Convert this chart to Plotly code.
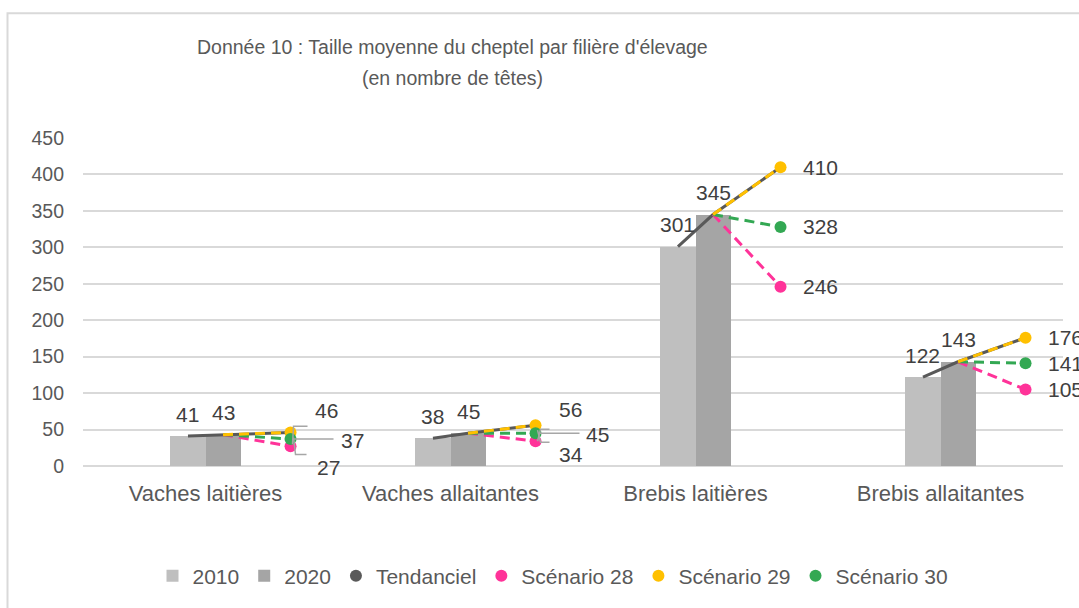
import plotly.graph_objects as go

categories = ["Vaches laitières", "Vaches allaitantes", "Brebis laitières", "Brebis allaitantes"]
v2010 = [41, 38, 301, 122]
v2020 = [43, 45, 345, 143]
tend2030 = [46, 56, 410, 176]
scen28 = [27, 34, 246, 105]
scen29 = [46, 56, 410, 176]
scen30 = [37, 45, 328, 141]
yticks = [0, 50, 100, 150, 200, 250, 300, 350, 400, 450]

OFF = 0                     # body margin removed by post_script
W, H = 1079, 608
PL, PR, PT, PB = 83, 1063, 138, 469          # plot area in page pixels
L, R, T, B = PL - OFF, PR - OFF, PT - OFF, PB - OFF
BW = 0.143          # bar width in category units
OFF30 = 0.347       # x offset of the 2030 points

FONT = "Liberation Sans, Arial, sans-serif"
TXT = "#595959"
LBL = "#404040"
C2010, C2020 = "#bfbfbf", "#a5a5a5"
CT, C28, C29, C30 = "#595959", "#ff3399", "#ffc000", "#33a853"

idx = list(range(len(categories)))
x10 = [i - BW / 2 for i in idx]
x20 = [i + BW / 2 for i in idx]
x30 = [i + OFF30 for i in idx]

fig = go.Figure()
fig.add_trace(go.Bar(x=x10, y=v2010, width=BW, marker=dict(color=C2010, line=dict(width=0)),
                     name="2010", showlegend=True))
fig.add_trace(go.Bar(x=x20, y=v2020, width=BW, marker=dict(color=C2020, line=dict(width=0)),
                     name="2020", showlegend=True))

# Tendanciel line 2010 -> 2020 -> 2030
tx, ty = [], []
for i in idx:
    tx += [x10[i], x20[i], x30[i], None]
    ty += [v2010[i], v2020[i], tend2030[i], None]
fig.add_trace(go.Scatter(x=tx, y=ty, mode="lines", line=dict(color=CT, width=3),
                         showlegend=False, hoverinfo="skip"))

def scen(vals, color):
    sx, sy = [], []
    for i in idx:
        sx += [x20[i], x30[i], None]
        sy += [v2020[i], vals[i], None]
    fig.add_trace(go.Scatter(x=sx, y=sy, mode="lines",
                             line=dict(color=color, width=3, dash="10px,6px"),
                             showlegend=False, hoverinfo="skip"))

def scen_markers(vals, color):
    fig.add_trace(go.Scatter(x=x30, y=vals, mode="markers",
                             marker=dict(color=color, size=12, line=dict(width=0)),
                             showlegend=False))

scen(scen28, C28)
scen(scen30, C30)
scen(scen29, C29)
scen_markers(scen28, C28)
scen_markers(scen29, C29)
scen_markers(scen30, C30)

# legend-only entries (circle symbols)
for name, color in [("Tendanciel", CT), ("Scénario 28", C28), ("Scénario 29", C29), ("Scénario 30", C30)]:
    fig.add_trace(go.Scatter(x=[None], y=[None], mode="markers", name=name,
                             marker=dict(color=color, size=12)))

LFS = 21
ann = []
shapes = []
# labels above 2010 / 2020
for i in idx:
    for xx, v in [(x10[i], v2010[i]), (x20[i], v2020[i])]:
        ann.append(dict(x=xx, y=v, text=str(v), showarrow=False, yshift=22,
                        font=dict(size=LFS, color=LBL, family=FONT)))

# scenario labels with leader lines for the two small categories
lead = {
    0: {"29": (22, 22, "M3,-5 L5,-22 L16,-22"),
        "30": (48, -1, "M3,0 L43,0"),
        "28": (24, -21, "M2,2 L3,20 L17,20")},
    1: {"29": (21, 16, "M2,-5 L5,-17 L14,-17"),
        "30": (48, -1, "M3,0 L44,0"),
        "28": (21, -13, "M2,0 L5,12 L14,12")},
}
for i in idx:
    for key, vals in [("28", scen28), ("29", scen29), ("30", scen30)]:
        if i in lead:
            xs, ys, path = lead[i][key]
            shapes.append(dict(type="path", xref="x", yref="y", xsizemode="pixel", ysizemode="pixel",
                               xanchor=x30[i], yanchor=vals[i], path=path,
                               line=dict(color="#a6a6a6", width=1.5)))
            ann.append(dict(x=x30[i], y=vals[i], text=str(vals[i]), showarrow=False,
                            xanchor="left", xshift=xs, yshift=ys,
                            font=dict(size=LFS, color=LBL, family=FONT)))
        else:
            ann.append(dict(x=x30[i], y=vals[i], text=str(vals[i]), showarrow=False,
                            xanchor="left", xshift=20,
                            font=dict(size=LFS, color=LBL, family=FONT)))

# page pixel -> paper helpers
pw, ph = R - L, B - T
def px(xp): return (xp - OFF - L) / pw
def py(yp): return (B - (yp - OFF)) / ph

ann.append(dict(xref="paper", yref="paper", x=px(452), y=py(46), xanchor="center", yanchor="middle",
                showarrow=False, text="Donnée 10 : Taille moyenne du cheptel par filière d'élevage",
                font=dict(size=19.5, color=TXT, family=FONT)))
ann.append(dict(xref="paper", yref="paper", x=px(452), y=py(77), xanchor="center", yanchor="middle",
                showarrow=False, text="(en nombre de têtes)", font=dict(size=19.5, color=TXT, family=FONT)))

# chart frame (left and top edges visible)
shapes.append(dict(type="rect", xref="paper", yref="paper", x0=px(7.5), x1=px(1120), y0=py(660), y1=py(12),
                   line=dict(color="#d9d9d9", width=2), fillcolor="rgba(0,0,0,0)", layer="below"))

fig.update_layout(
    width=W, height=H,
    margin=dict(l=L, r=W - R, t=T, b=H - B, pad=0),
    paper_bgcolor="white", plot_bgcolor="white",
    barmode="overlay", bargap=0,
    font=dict(family=FONT, color=TXT),
    annotations=ann, shapes=shapes,
    legend=dict(orientation="h", x=px(553), xanchor="center", y=py(580), yanchor="middle",
                font=dict(size=21, color=TXT, family=FONT), itemwidth=30, tracegroupgap=0,
                bgcolor="rgba(0,0,0,0)"),
    xaxis=dict(range=[-0.5, 3.5], tickmode="array", tickvals=idx, ticktext=categories,
               showgrid=False, zeroline=False, showline=False, ticks="",
               tickfont=dict(size=22, color=TXT, family=FONT), ticklabelstandoff=12),
    yaxis=dict(range=[0, 450], tickmode="array", tickvals=yticks, showgrid=True,
               gridcolor="#d9d9d9", gridwidth=1.5, zeroline=True, zerolinecolor="#d9d9d9",
               zerolinewidth=1.5, showline=False, ticks="",
               tickfont=dict(size=19.5, color=TXT, family=FONT), ticklabelstandoff=18),
)

fig.write_html("out.html", config={"displayModeBar": False},
               post_script="document.body.style.margin='0';document.body.style.overflow='hidden';")
